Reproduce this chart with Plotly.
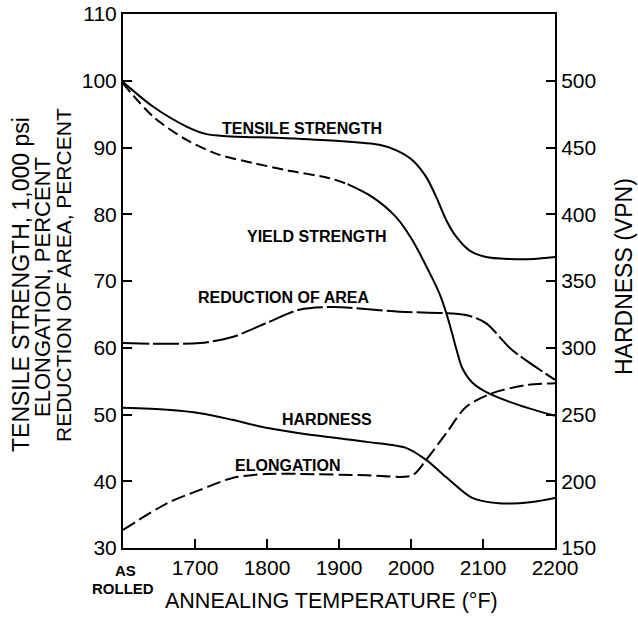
import plotly.graph_objects as go

# Annealing temperature (°F); the 1600 position is "AS ROLLED"
tensile_x = [1600, 1642, 1689, 1716, 1744, 1827, 1896, 1956, 1979, 2002, 2021, 2035, 2049, 2063, 2081, 2104, 2136, 2170, 2200]
tensile_y = [99.8, 96.1, 93.1, 92.0, 91.7, 91.4, 91.0, 90.4, 89.6, 88.1, 85.6, 82.6, 79.1, 76.6, 74.6, 73.6, 73.3, 73.3, 73.6]

yield_dash_x = [1600, 1642, 1689, 1734, 1780, 1827, 1887, 1912]
yield_dash_y = [99.6, 94.6, 91.1, 88.9, 87.7, 86.6, 85.4, 84.5]
yield_solid_x = [1912, 1946, 1979, 2002, 2025, 2040, 2049, 2057, 2063, 2071, 2085, 2104, 2150, 2200]
yield_solid_y = [84.5, 82.6, 79.6, 76.1, 71.4, 68.0, 65.2, 62.2, 59.8, 57.0, 54.8, 53.4, 51.4, 49.8]

reduction_x = [1600, 1650, 1707, 1752, 1799, 1845, 1891, 1984, 2076, 2104, 2140, 2200]
reduction_y = [60.7, 60.6, 60.7, 61.6, 63.7, 65.7, 66.1, 65.4, 64.9, 63.7, 59.7, 55.2]

elong_x = [1600, 1661, 1707, 1752, 1799, 1845, 1938, 2002, 2021, 2049, 2076, 2113, 2160, 2200]
elong_y = [32.7, 36.7, 38.7, 40.5, 41.1, 41.1, 40.9, 40.9, 43.2, 47.2, 51.1, 53.2, 54.4, 54.7]

hard_x = [1600, 1661, 1707, 1752, 1799, 1845, 1938, 1993, 2021, 2049, 2085, 2122, 2168, 2200]
hard_vpn = [255, 253.5, 251, 246, 240, 236, 229.5, 225, 216, 203, 187.5, 183.5, 184.5, 187.5]

x_ticks = [1600, 1700, 1800, 1900, 2000, 2100, 2200]
x_ticktext = ["", "1700", "1800", "1900", "2000", "2100", "2200"]
left_ticks = [30, 40, 50, 60, 70, 80, 90, 100, 110]
right_ticks = [150, 200, 250, 300, 350, 400, 450, 500]

labels = ["TENSILE STRENGTH", "YIELD STRENGTH", "REDUCTION OF AREA", "HARDNESS", "ELONGATION"]
label_x = [1848, 1869, 1823, 1883, 1828]
label_y = [92.9, 76.7, 67.6, 49.2, 42.4]

left_title_lines = ["TENSILE STRENGTH, 1,000 psi", "ELONGATION, PERCENT", "REDUCTION OF AREA, PERCENT"]
right_title = "HARDNESS (VPN)"
x_title = "ANNEALING TEMPERATURE (°F)"

W, H = 638, 628
L, T, R, B = 123, 14, 83, 80
PW, PH = W - L - R, H - T - B


def px_x(sx):
    return (sx - L) / PW


def px_y(sy):
    return (H - B - sy) / PH


NUMFONT = dict(family="Liberation Sans", size=21, color="black")
TITLEFONT = dict(family="Liberation Sans", size=21.5, color="black")
RTITLEFONT = dict(family="Liberation Sans", size=23, color="black")
LABFONT = dict(family="Liberation Sans", size=16, color="black")
ASFONT = dict(family="Liberation Sans", size=15, color="black")

fig = go.Figure()
fig.add_trace(go.Scatter(x=tensile_x, y=tensile_y, mode="lines", line=dict(color="black", width=2, shape="spline", smoothing=0.8)))
fig.add_trace(go.Scatter(x=yield_dash_x, y=yield_dash_y, mode="lines", line=dict(color="black", width=2, shape="spline", smoothing=0.8, dash="11px,5px")))
fig.add_trace(go.Scatter(x=yield_solid_x, y=yield_solid_y, mode="lines", line=dict(color="black", width=2, shape="spline", smoothing=0.8)))
fig.add_trace(go.Scatter(x=reduction_x, y=reduction_y, mode="lines", line=dict(color="black", width=2, shape="spline", smoothing=0.8, dash="26px,4px")))
fig.add_trace(go.Scatter(x=elong_x, y=elong_y, mode="lines", line=dict(color="black", width=2, shape="spline", smoothing=0.8, dash="14px,5px")))
fig.add_trace(go.Scatter(x=hard_x, y=hard_vpn, yaxis="y2", mode="lines", line=dict(color="black", width=2, shape="spline", smoothing=0.8)))

for t, xx, yy in zip(labels, label_x, label_y):
    fig.add_annotation(x=xx, y=yy, xref="x", yref="y", text="<b>" + t + "</b>", showarrow=False,
                       xanchor="center", yanchor="middle", font=LABFONT)

# "AS ROLLED" label under the first x position
fig.add_annotation(x=px_x(125), y=px_y(570), xref="paper", yref="paper", text="<b>AS</b>", showarrow=False,
                   xanchor="center", yanchor="middle", font=ASFONT)
fig.add_annotation(x=px_x(122.5), y=px_y(588), xref="paper", yref="paper", text="<b>ROLLED</b>", showarrow=False,
                   xanchor="center", yanchor="middle", font=ASFONT)

# axis titles
for line_text, cx, cy, fs in zip(left_title_lines, [21, 42, 63], [285, 287, 275], [23, 22, 21]):
    fig.add_annotation(x=px_x(cx), y=px_y(cy), xref="paper", yref="paper", text=line_text, textangle=-90,
                       showarrow=False, xanchor="center", yanchor="middle", font=dict(TITLEFONT, size=fs))
fig.add_annotation(x=px_x(624), y=px_y(277), xref="paper", yref="paper", text=right_title, textangle=-90,
                   showarrow=False, xanchor="center", yanchor="middle", font=RTITLEFONT)
fig.add_annotation(x=px_x(331), y=px_y(601), xref="paper", yref="paper", text=x_title,
                   showarrow=False, xanchor="center", yanchor="middle", font=TITLEFONT)

AX = dict(ticks="inside", ticklen=9, tickwidth=2, tickcolor="black", showline=True, linecolor="black",
          linewidth=2, showgrid=False, zeroline=False, tickfont=NUMFONT, automargin=False)

fig.update_layout(
    width=W, height=H,
    margin=dict(l=L, r=R, t=T, b=B),
    paper_bgcolor="white", plot_bgcolor="white",
    showlegend=False,
    xaxis=dict(range=[1600, 2200], tickvals=x_ticks, ticktext=x_ticktext, mirror=True,
               ticklabelstandoff=0, **AX),
    yaxis=dict(range=[30, 110], tickvals=left_ticks, ticklabeloverflow="allow", **AX),
    yaxis2=dict(range=[150, 550], tickvals=right_ticks, overlaying="y", side="right",
                ticklabeloverflow="allow", **AX),
)

# remove the default 8px page margin so the 638x628 figure fills the window exactly
fig.write_html("out.html", config={"displayModeBar": False},
               post_script="document.body.style.margin='0';document.body.style.overflow='hidden';")
